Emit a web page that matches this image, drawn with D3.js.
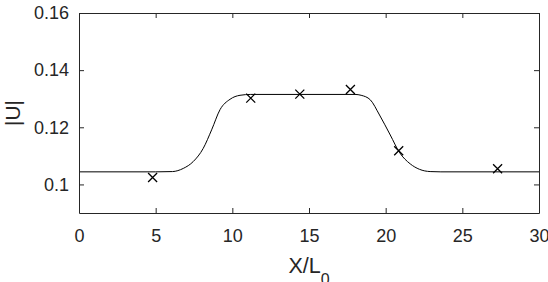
<!DOCTYPE html>
<html lang="en">
<head>
<meta charset="UTF-8">
<title>|U| vs X/L0</title>
<script src="https://cdn.jsdelivr.net/npm/d3@7"></script>
<style>
  body { margin: 0; background: #fff; }
  text { font-family: "Liberation Sans", Arial, sans-serif; fill: #262626; }
</style>
</head>
<body>
<script>
// curve points
var curveX = [0, 5, 6.1, 6.8, 7.45, 8.1, 8.65, 9.2, 9.85, 10.5, 11.2, 12, 18.0, 18.4, 19.0, 19.6, 20.3, 20.9, 21.6, 22.2, 22.9, 23.6, 30];
var curveY = [0.1044, 0.1044, 0.1045, 0.1056, 0.1080, 0.1126, 0.1191, 0.1262, 0.1298, 0.1312, 0.1315, 0.1315, 0.1315, 0.1312, 0.1296, 0.1243, 0.1173, 0.1112, 0.1072, 0.1053, 0.1045, 0.1044, 0.1044];

// measured points
var markX = [4.8, 11.2, 14.4, 17.7, 20.85, 27.3];
var markY = [0.1024, 0.1302, 0.1316, 0.1332, 0.1118, 0.1055];

var xTicks = [0, 5, 10, 15, 20, 25, 30];
var yTicks = [0.1, 0.12, 0.14, 0.16];

var W = 548, H = 282;
var mL = 79, mR = 539, mT = 13, mB = 213;

var svg = d3.select("body").append("svg")
  .attr("width", W).attr("height", H);

var x = d3.scaleLinear().domain([0, 30]).range([mL, mR]);
var y = d3.scaleLinear().domain([0.09, 0.16]).range([mB, mT]);

var axisCol = "#262626";

// curve
var pts = curveX.map(function(v, i) { return [v, curveY[i]]; });
svg.append("path")
  .datum(pts)
  .attr("fill", "none")
  .attr("stroke", "#000")
  .attr("stroke-width", 1)
  .attr("d", d3.line().x(d => x(d[0])).y(d => y(d[1])).curve(d3.curveMonotoneX));

// markers
var s = 4.5;
svg.selectAll("path.mk")
  .data(markX.map((v, i) => [v, markY[i]]))
  .enter().append("path")
  .attr("class", "mk")
  .attr("fill", "none")
  .attr("stroke", "#000")
  .attr("stroke-width", 1.3)
  .attr("d", d => {
    var cx = x(d[0]), cy = y(d[1]);
    return "M" + (cx - s) + "," + (cy - s) + "L" + (cx + s) + "," + (cy + s) +
           "M" + (cx - s) + "," + (cy + s) + "L" + (cx + s) + "," + (cy - s);
  });

// axes: ticks inside, box on
var tl = 5;
var bAx = svg.append("g").attr("transform", "translate(0," + mB + ")")
  .call(d3.axisBottom(x).tickValues(xTicks).tickSizeInner(-tl).tickSizeOuter(0).tickPadding(16).tickFormat(d3.format("d")));
var tAx = svg.append("g").attr("transform", "translate(0," + mT + ")")
  .call(d3.axisTop(x).tickValues(xTicks).tickSizeInner(-tl).tickSizeOuter(0).tickFormat(""));
var lAx = svg.append("g").attr("transform", "translate(" + mL + ",0)")
  .call(d3.axisLeft(y).tickValues(yTicks).tickSizeInner(-tl).tickSizeOuter(0).tickPadding(10).tickFormat(d => String(+d.toFixed(2))));
var rAx = svg.append("g").attr("transform", "translate(" + mR + ",0)")
  .call(d3.axisRight(y).tickValues(yTicks).tickSizeInner(-tl).tickSizeOuter(0).tickFormat(""));

[bAx, tAx, lAx, rAx].forEach(function(g) {
  g.select(".domain").attr("stroke", axisCol);
  g.selectAll(".tick line").attr("stroke", axisCol);
  g.selectAll(".tick text").style("font-size", "18px").attr("fill", axisCol);
});

// axis labels
var xl = svg.append("text")
  .attr("x", (mL + mR) / 2).attr("y", 273)
  .attr("text-anchor", "middle")
  .style("font-size", "21.5px");
xl.append("tspan").text("X/L");
xl.append("tspan").attr("dy", 12).style("font-size", "16px").text("0");

svg.append("text")
  .attr("transform", "translate(20," + ((mT + mB) / 2) + ") rotate(-90)")
  .attr("text-anchor", "middle")
  .style("font-size", "21px")
  .text("|U|");
</script>
</body>
</html>
